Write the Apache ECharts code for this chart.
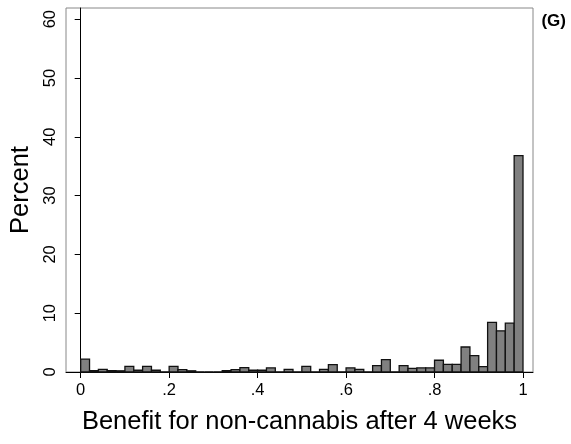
<!DOCTYPE html>
<html>
<head>
<meta charset="utf-8">
<script src="https://cdn.jsdelivr.net/npm/echarts@6/dist/echarts.min.js"></script>
<style>html,body{margin:0;padding:0;background:#fff}#c{width:571px;height:444px}</style>
</head>
<body>
<div id="c"></div>
<script>
// Histogram bins: left edges (width 0.02), percent per bin
var binWidth = 0.02;
var binStarts = [0,0.02,0.04,0.06,0.08,0.10,0.12,0.14,0.16,0.18,
                 0.20,0.22,0.24,0.26,0.28,0.30,0.32,0.34,0.36,0.38,
                 0.40,0.42,0.44,0.46,0.48,0.50,0.52,0.54,0.56,0.58,
                 0.60,0.62,0.64,0.66,0.68,0.70,0.72,0.74,0.76,0.78,
                 0.80,0.82,0.84,0.86,0.88,0.90,0.92,0.94,0.96,0.98];
var percents = [2.2,0.25,0.45,0.25,0.2,0.95,0.3,0.95,0.3,0,
                0.95,0.4,0.2,0,0,0,0.25,0.4,0.75,0.3,
                0.3,0.7,0,0.45,0,0.95,0,0.45,1.25,0,
                0.7,0.45,0,1.1,2.1,0,1.1,0.6,0.7,0.7,
                2.0,1.3,1.3,4.25,2.8,0.9,8.45,7.0,8.3,36.8];
var xTicks = [0,0.2,0.4,0.6,0.8,1];
var xTickLabels = {"0":"0","0.2":".2","0.4":".4","0.6":".6","0.8":".8","1":"1"};
var yTicks = [0,10,20,30,40,50,60];

var data = binStarts.map(function(s,i){return [s, s+binWidth, percents[i]];});
var chart = echarts.init(document.getElementById('c'), null, {renderer:'canvas'});
var FONT = '"Liberation Sans", Arial, sans-serif';
chart.setOption({
  animation:false,
  backgroundColor:'#fff',
  grid:{left:66, right:38, top:8, bottom:72, show:true, borderColor:'#888', borderWidth:1, backgroundColor:'#fff'},
  xAxis:{
    type:'value', min:-0.0332, max:1.0226,
    name:'Benefit for non-cannabis after 4 weeks', nameLocation:'middle', nameGap:37,
    nameTextStyle:{fontFamily:FONT, fontSize:25.5, color:'#000'},
    axisLine:{show:true, onZero:false, lineStyle:{color:'#000', width:1}},
    axisTick:{show:true, length:6, lineStyle:{color:'#000'}, customValues:xTicks},
    axisLabel:{customValues:xTicks, fontFamily:FONT, fontSize:16.5, color:'#000', margin:10,
      formatter:function(v){var k=String(Math.round(v*10)/10); return xTickLabels[k]!==undefined?xTickLabels[k]:k;}},
    splitLine:{show:false}
  },
  yAxis:{
    type:'value', min:0, max:61.9,
    name:'Percent', nameLocation:'middle', nameGap:31, nameRotate:90,
    nameTextStyle:{fontFamily:FONT, fontSize:25.5, color:'#000'},
    axisLine:{show:true, lineStyle:{color:'#000', width:1}},
    axisTick:{show:true, length:6, lineStyle:{color:'#000'}, customValues:yTicks},
    axisLabel:{customValues:yTicks, rotate:90, fontFamily:FONT, fontSize:16.5, color:'#000', margin:7},
    splitLine:{show:false}
  },
  graphic:[{type:'text', right:5, top:13, style:{text:'(G)', font:'bold 17px "Liberation Sans", Arial, sans-serif', fill:'#000'}}],
  series:[{
    type:'custom',
    data:data,
    encode:{x:[0,1], y:2},
    renderItem:function(params, api){
      var p0 = api.coord([api.value(0), api.value(2)]);
      var p1 = api.coord([api.value(1), 0]);
      return {type:'rect', shape:{x:p0[0], y:p0[1], width:p1[0]-p0[0], height:p1[1]-p0[1]},
        style:{fill:'#808080', stroke:'#111', lineWidth:1.3}};
    }
  }]
});
</script>
</body>
</html>
